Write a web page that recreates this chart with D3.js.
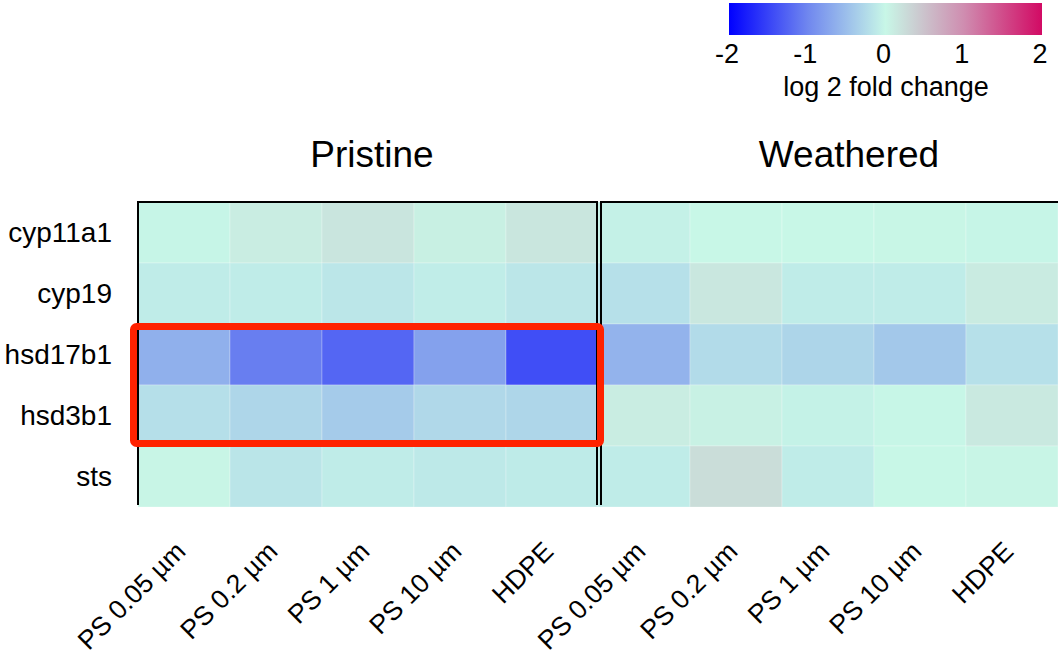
<!DOCTYPE html>
<html>
<head>
<meta charset="utf-8">
<script src="https://cdn.jsdelivr.net/npm/d3@7"></script>
<style>
  body { margin: 0; background: #fff; }
  text { font-family: "Liberation Sans", Arial, sans-serif; fill: #000; }
</style>
</head>
<body>
<div id="chart"></div>
<script>
const genes = ["cyp11a1", "cyp19", "hsd17b1", "hsd3b1", "sts"]
const particles = ["PS 0.05 \u00b5m", "PS 0.2 \u00b5m", "PS 1 \u00b5m", "PS 10 \u00b5m", "HDPE"]
const groups = ["Pristine", "Weathered"]

// log2 fold change, rows = genes, cols = particles
const pristine = [
  [-0.02, 0.09, 0.17, 0.07, 0.16],
  [-0.10, -0.10, -0.15, -0.09, -0.15],
  [-0.63, -1.06, -1.24, -0.76, -1.42],
  [-0.21, -0.29, -0.39, -0.27, -0.29],
  [0.02, -0.16, -0.10, -0.12, -0.11]
]
const weathered = [
  [-0.05, 0.00, 0.00, 0.01, -0.02],
  [-0.20, 0.15, -0.10, -0.10, 0.11],
  [-0.60, -0.25, -0.30, -0.42, -0.20],
  [0.09, 0.06, -0.04, -0.01, 0.13],
  [-0.10, 0.25, -0.10, 0.00, 0.02]
]
const legendTicks = [-2, -1, 0, 1, 2]

const width = 1058, height = 657
const gLeft = 138, gTop = 202, gRight = 1058, gBottom = 507

const svg = d3.select("#chart").append("svg")
  .attr("width", width)
  .attr("height", height)

let cells = []
groups.forEach(function(g, gi) {
  let m = gi === 0 ? pristine : weathered
  genes.forEach(function(gene, r) {
    particles.forEach(function(p, c) {
      cells.push({group: g, gene: gene, col: gi + "|" + p, value: m[r][c]})
    })
  })
})

let cols = []
groups.forEach(function(g, gi) { particles.forEach(function(p) { cols.push(gi + "|" + p) }) })

let x = d3.scaleBand().domain(cols).range([gLeft, gRight])
let y = d3.scaleBand().domain(genes).range([gTop, gBottom])

let color = d3.scaleLinear()
  .domain(legendTicks)
  .range(["#0000ff", "#6f86ef", "#c8f7e7", "#cf8db0", "#d20a64"])
  .clamp(true)

svg.append("g").selectAll("rect")
  .data(cells)
  .enter().append("rect")
  .attr("x", d => x(d.col))
  .attr("y", d => y(d.gene))
  .attr("width", x.bandwidth())
  .attr("height", y.bandwidth())
  .attr("fill", d => color(d.value))
  .attr("stroke", "rgba(255,255,255,0.25)")
  .attr("stroke-width", 1)

// panel frames (top, left, right sides)
let mid = x(cols[5])
let frames = svg.append("g").attr("stroke", "#000").attr("stroke-width", 2).attr("fill", "none")
frames.append("path").attr("d", `M${gLeft},${gBottom - 2}V${gTop}H${mid - 1}V${gBottom - 2}`)
frames.append("path").attr("d", `M${mid + 3},${gBottom - 2}V${gTop}H${gRight}`)

// group titles (sit a little right of the panel centres)
groups.forEach(function(g, gi) {
  let x0 = x(cols[gi * 5]), x1 = x(cols[gi * 5 + 4]) + x.bandwidth()
  svg.append("text")
    .attr("x", (x0 + x1) / 2 + (gi === 0 ? 4 : 21))
    .attr("y", 167)
    .attr("text-anchor", "middle")
    .attr("font-size", 37)
    .text(g)
})

// row labels
svg.append("g").selectAll("text")
  .data(genes)
  .enter().append("text")
  .attr("x", 112)
  .attr("y", d => y(d) + y.bandwidth() / 2)
  .attr("dy", "0.35em")
  .attr("text-anchor", "end")
  .attr("font-size", 28)
  .text(d => d)

// column labels
svg.append("g").selectAll("text")
  .data(cols)
  .enter().append("text")
  .attr("transform", d => `translate(${x(d) + x.bandwidth() / 2 + 3},553) rotate(-45)`)
  .attr("text-anchor", "end")
  .attr("font-size", 26.5)
  .text(d => d.split("|")[1])

// highlight box
svg.append("rect")
  .attr("x", gLeft - 4.5)
  .attr("y", y("hsd17b1") + 2.5)
  .attr("width", mid - gLeft + 7)
  .attr("height", y.bandwidth() * 2 - 5)
  .attr("rx", 3)
  .attr("fill", "none")
  .attr("stroke", "#ff2200")
  .attr("stroke-width", 7)

// legend
let lx = d3.scaleLinear().domain([-2, 2]).range([729, 1042])
let defs = svg.append("defs")
let grad = defs.append("linearGradient").attr("id", "lg")
legendTicks.forEach(function(t) {
  grad.append("stop")
    .attr("offset", ((t + 2) / 4 * 100) + "%")
    .attr("stop-color", color(t))
})
svg.append("rect")
  .attr("x", lx(-2))
  .attr("y", 3)
  .attr("width", lx(2) - lx(-2))
  .attr("height", 32)
  .attr("fill", "url(#lg)")

svg.append("g").selectAll("text")
  .data(legendTicks)
  .enter().append("text")
  .attr("x", d => lx(d) - 2)
  .attr("y", 63)
  .attr("text-anchor", "middle")
  .attr("font-size", 27)
  .text(d => d)

svg.append("text")
  .attr("x", 886)
  .attr("y", 96)
  .attr("text-anchor", "middle")
  .attr("font-size", 27)
  .text("log 2 fold change")
</script>
</body>
</html>
